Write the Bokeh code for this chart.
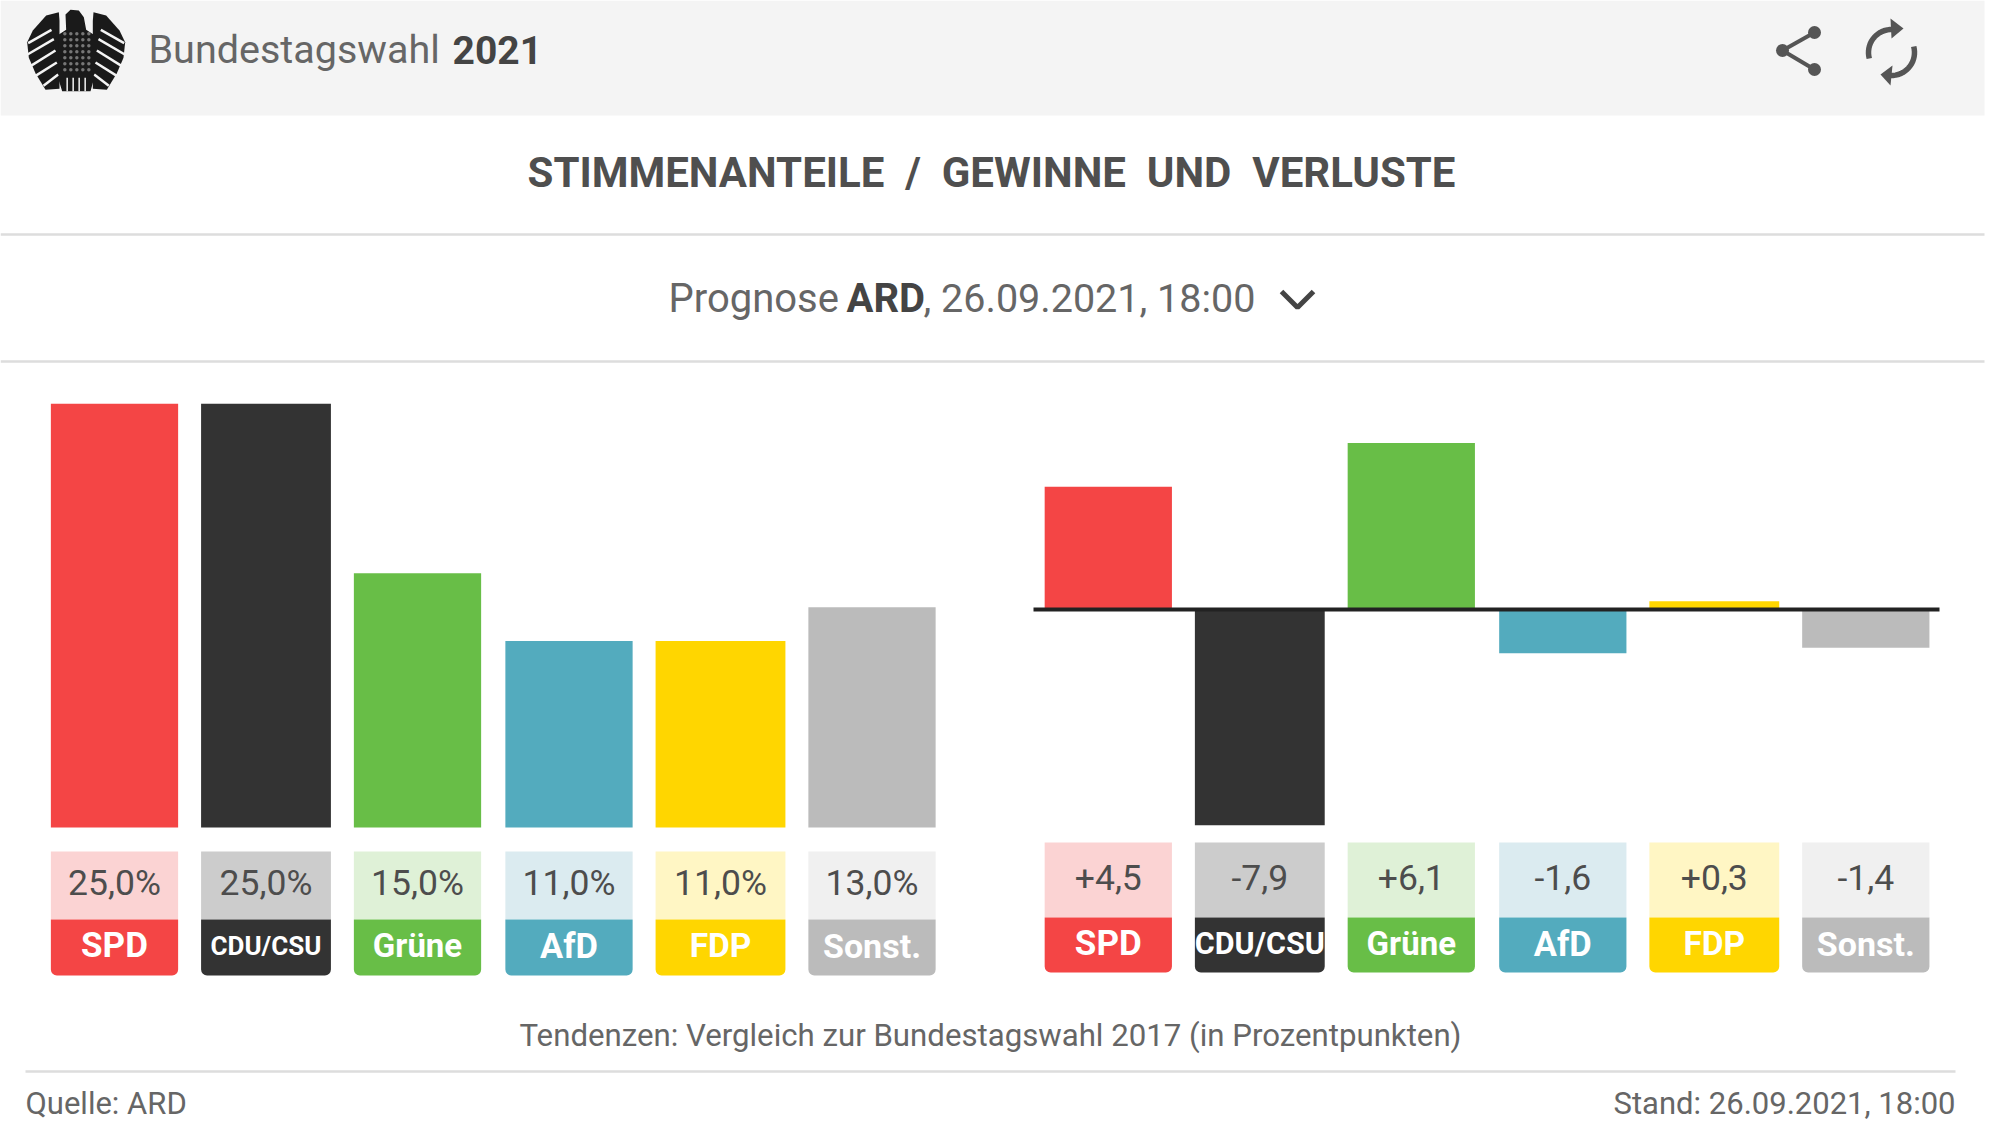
import numpy as np
from bokeh.plotting import figure
from bokeh.models import Range1d
from bokeh.core.properties import value
from bokeh.embed import file_html
from bokeh.resources import INLINE

parties = ["SPD", "CDU/CSU", "Grüne", "AfD", "FDP", "Sonst."]
vote_share = [25.0, 25.0, 15.0, 11.0, 11.0, 13.0]
change = [4.5, -7.9, 6.1, -1.6, 0.3, -1.4]
colors = ["#F44545", "#333333", "#68BE47", "#53ABBE", "#FFD600", "#BBBBBB"]
pale = ["#FBD3D3", "#CCCCCC", "#DFF1D7", "#DBEBF0", "#FFF6C4", "#F0F0F0"]
bar_widths = [0.84, 0.857, 0.84, 0.84, 0.857, 0.84]
index = list(range(len(parties)))

W, H = 2000, 1126
FONT = value("Roboto")
GREY, DARK = "#666666", "#444444"
BL = 0.35  # the page draws "alphabetic" text this many ems below the given y

p = figure(width=W, height=H, x_range=Range1d(0, W), y_range=Range1d(H, 0),
           output_backend="svg", toolbar_location=None, min_border=0,
           background_fill_color="white", border_fill_color="white",
           outline_line_color=None, x_axis_location=None, y_axis_location=None,
           styles={"position": "absolute", "left": "0px", "top": "0px"})
p.grid.visible = False

# scales of the two panels
PITCH = 151.5
p.extra_x_ranges = {
    "lx": Range1d((0 - 114.0) / PITCH, (W - 114.0) / PITCH),
    "rx": Range1d((0 - 1107.8) / PITCH, (W - 1107.8) / PITCH),
}
LS, L0 = 16.95, 827.0
RS, R0 = 27.3, 609.0
p.extra_y_ranges = {
    "ly": Range1d((L0 - H) / LS, L0 / LS),
    "ry": Range1d((R0 - H) / RS, R0 / RS),
}


def txt(x, y, s, size, color=GREY, style="normal", align="left", **kw):
    p.text([x], [y - BL * size], text=[s], text_font=FONT, text_font_size=f"{size}px",
            text_font_style=style, text_color=color, text_align=align,
            text_baseline="alphabetic", **kw)


# chrome
p.quad(left=[0], right=[1984], top=[0], bottom=[115], color="#F4F4F4", line_color=None)
p.segment(x0=[0, 0, 25], x1=[1984, 1984, 1955], y0=[234, 361, 1071], y1=[234, 361, 1071],
          line_color="#DDDDDD", line_width=2.5)

txt(148, 63, "Bundestagswahl", 39.5)
txt(452, 63, "2021", 39, DARK, "bold")
GAP = "\u00a0" * 2
txt(991, 187, GAP.join(["STIMMENANTEILE", "/", "GEWINNE", "UND", "VERLUSTE"]), 42, "#4F4F4F", "bold", "center")
txt(668, 312, "Prognose", 40)
txt(846, 312, "ARD", 40, DARK, "bold")
txt(923, 312, ", 26.09.2021, 18:00", 39.5)
p.line([1281, 1297, 1313], [291, 307, 291], line_color=DARK, line_width=5)
txt(990, 1046, "Tendenzen: Vergleich zur Bundestagswahl 2017 (in Prozentpunkten)", 31.2, align="center")
txt(25, 1114, "Quelle: ARD", 31)
txt(1955, 1114, "Stand: 26.09.2021, 18:00", 31, align="right")

# emblem (drawn in 3x crop units around the crest)
ex = lambda a: 15 + np.asarray(a, float) / 3
ey = lambda a: np.asarray(a, float) / 3
EAGLE = "#1A1A1A"
wing_x = [130, 92, 52, 35, 40, 60, 90, 132, 132]
wing_y = [35, 45, 90, 125, 172, 218, 268, 265, 60]
body_x = [150, 165, 190, 205, 212, 234, 234, 225, 140, 130, 130, 152]
body_y = [42, 28, 30, 50, 88, 102, 240, 272, 272, 240, 102, 88]
for mirror in (False, True):
    wx = 364 - np.array(wing_x) if mirror else np.array(wing_x)
    p.patch(ex(wx), ey(wing_y), color=EAGLE, line_color=None)
    st = [(38, 128, 108, 88), (36, 162, 115, 116), (46, 196, 120, 150), (60, 226, 124, 186), (84, 256, 128, 222)]
    for x0, y0, x1, y1 in st:
        a, b = (364 - x0, 364 - x1) if mirror else (x0, x1)
        p.line(ex([a, b]), ey([y0, y1]), line_color="#F4F4F4", line_width=2.5)
p.patch(ex(body_x), ey(body_y), color=EAGLE, line_color=None)
dx, dy = np.meshgrid(np.arange(148, 222, 18), np.arange(100, 226, 18))
p.scatter(ex(dx.ravel()), ey(dy.ravel()), size=3.5, color="#777777", line_color=None)
p.segment(ex([155, 173, 191, 209]), ey([232] * 4), ex([155, 173, 191, 209]), ey([272] * 4),
          line_color="#F4F4F4", line_width=1.5)

# share icon
ICON = "#555555"
p.line([1814, 1782, 1814], [32, 50, 69], line_color=ICON, line_width=4)
p.scatter([1782, 1814, 1814], [50, 32, 69], size=13, color=ICON, line_color=None)

# refresh icon
cx, cy, r = 1891, 52, 23
t1 = np.radians(np.linspace(165, 285, 20))
t2 = np.radians(np.linspace(345, 465, 20))
for t in (t1, t2):
    p.line(cx + r * np.cos(t), cy + r * np.sin(t), line_color=ICON, line_width=5.5)
p.patch([1890, 1903, 1891], [18, 28, 38], color=ICON, line_color=None)
p.patch([1890, 1880, 1892], [85, 74, 65], color=ICON, line_color=None)

# left panel: vote shares
p.vbar(x=index, width=bar_widths, bottom=0, top=vote_share, color=colors, line_color=None,
       x_range_name="lx", y_range_name="ly")
p.vbar(x=index, width=bar_widths, bottom=851, top=919, color=pale, line_color=None, x_range_name="lx")
p.vbar(x=index, width=bar_widths, bottom=975, top=919, color=colors, line_color=None,
       border_radius=(0, 0, 6, 6), x_range_name="lx")
p.text(x=index, y=[895 - BL * 35.5] * 6, text=[f"{v:.1f}%".replace(".", ",") for v in vote_share],
       text_font=FONT, text_font_size="35.5px", text_color="#4D4D4D", text_align="center",
       text_baseline="alphabetic", x_range_name="lx")
label_sizes_l = ["35px", "26px", "33px", "34.5px", "33.5px", "34px"]
p.text(x=index, y=[957 - BL * 34] * 6, text=parties, text_font=FONT, text_font_size=label_sizes_l,
       text_font_style="bold", text_color="white", text_align="center",
       text_baseline="alphabetic", x_range_name="lx")

# right panel: changes
p.vbar(x=index, width=bar_widths, bottom=0, top=change, color=colors, line_color=None,
       x_range_name="rx", y_range_name="ry")
p.segment(x0=[1033], x1=[1939], y0=[609], y1=[609], line_color="#222222", line_width=4)
p.vbar(x=index, width=bar_widths, bottom=842, top=917, color=pale, line_color=None, x_range_name="rx")
p.vbar(x=index, width=bar_widths, bottom=972, top=917, color=colors, line_color=None,
       border_radius=(0, 0, 6, 6), x_range_name="rx")
p.text(x=index, y=[889 - BL * 35.5] * 6, text=[f"{v:+.1f}".replace(".", ",") for v in change],
       text_font=FONT, text_font_size="35.5px", text_color="#4D4D4D", text_align="center",
       text_baseline="alphabetic", x_range_name="rx")
label_sizes_r = ["35px", "30.5px", "33px", "34.5px", "33.5px", "34px"]
p.text(x=index, y=[955 - BL * 34] * 6, text=parties, text_font=FONT, text_font_size=label_sizes_r,
       text_font_style="bold", text_color="white", text_align="center",
       text_baseline="alphabetic", x_range_name="rx")

open("out.html", "w").write(file_html(p, INLINE))
